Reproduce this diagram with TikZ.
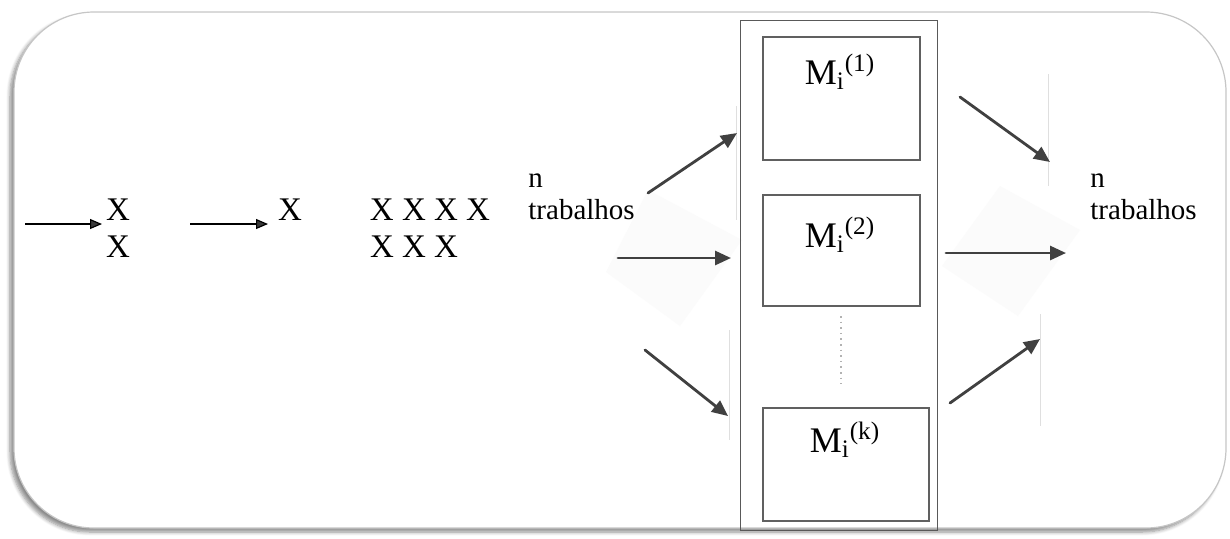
\documentclass[tikz,border=0pt]{standalone}
\usepackage{fontspec}
\setmainfont{Liberation Serif}
\usetikzlibrary{arrows.meta,shadows.blur}

\tikzset{
  frame/.style={draw=gray!45, line width=0.6pt, fill=white, rounded corners=40pt,
    blur shadow={shadow xshift=-2pt, shadow yshift=-2pt, shadow blur steps=6, shadow opacity=45}},
  machine/.style={draw=gray!75!black, line width=1.1pt},
  outerbox/.style={draw=gray!70!black, line width=0.5pt},
  thinarrow/.style={line width=0.6pt, -{Triangle[length=6pt, width=5pt]}},
  fatarrow/.style={draw=gray!50!black, line width=1.4pt, line cap=round,
    -{Triangle[length=8pt, width=7pt]}},
  edge/.style={draw=gray!25, line width=0.4pt},
  ghost/.style={fill=gray!3},
  xlab/.style={font=\fontsize{16.5}{18}\selectfont, inner sep=0pt},
  mlab/.style={font=\fontsize{18}{20}\selectfont, inner sep=0pt},
  jobs/.style={font=\fontsize{14.5}{16}\selectfont, align=left, anchor=west, inner sep=0pt}
}

\begin{document}
\begin{tikzpicture}[x=0.5pt, y=-0.5pt]
\useasboundingbox (0,0) rectangle (1230,538);

% rounded frame with soft shadow
\path[frame] (14,12) rectangle (1226,528);

% faint rotated panels behind the middle arrows
\fill[ghost] (648,190) -- (742,240) -- (680,326) -- (606,272) -- cycle;
\fill[ghost] (1000,186) -- (1080,230) -- (1018,316) -- (942,266) -- cycle;

% faint edges of the arrow panels
\draw[edge] (736,106) -- (736,220);
\draw[edge] (729,330) -- (729,440);
\draw[edge] (1048,74) -- (1048,186);
\draw[edge] (1040,314) -- (1040,426);

% machine column
\draw[outerbox] (740,20) rectangle (937,530);
\draw[machine] (763,37) rectangle (920,160);
\draw[machine] (763,195) rectangle (920,306);
\draw[machine] (763,408) rectangle (929,521);
\draw[gray!60, line width=0.8pt, dotted] (841,316) -- (841,384);

\node[mlab] (m1) at (840,72) {M\textsubscript{i}\textsuperscript{(1)}};
\node[mlab] (m2) at (840,235) {M\textsubscript{i}\textsuperscript{(2)}};
\node[mlab] (mk) at (845,440) {M\textsubscript{i}\textsuperscript{(k)}};

% queue of jobs
\node[xlab] (xa) at (118,210) {X};
\node[xlab] (xb) at (118,247) {X};
\node[xlab] (xc) at (290,210) {X};
\node[xlab] (xd) at (430,210) {X X X X};
\node[xlab] (xe) at (414,247) {X X X};

\coordinate (s1) at (25,224);
\coordinate (e1) at (102,224);
\coordinate (s2) at (190,224);
\coordinate (e2) at (268,224);
\draw[thinarrow] (s1) -- (e1);
\draw[thinarrow] (s2) -- (e2);

\node[jobs] (nin) at (528,197) {n\\trabalhos};
\node[jobs] (nout) at (1090,197) {n\\trabalhos};

% jobs dispatched to the machines
\coordinate (a1) at (648,193); \coordinate (b1) at (737,133);
\coordinate (a2) at (618,258); \coordinate (b2) at (731,258);
\coordinate (a3) at (645,350); \coordinate (b3) at (728,416);
\draw[fatarrow] (a1) -- (b1);
\draw[fatarrow] (a2) -- (b2);
\draw[fatarrow] (a3) -- (b3);

% jobs leaving the machines
\coordinate (c1) at (960,97);  \coordinate (d1) at (1050,162);
\coordinate (c2) at (946,253); \coordinate (d2) at (1066,253);
\coordinate (c3) at (950,403); \coordinate (d3) at (1040,339);
\draw[fatarrow] (c1) -- (d1);
\draw[fatarrow] (c2) -- (d2);
\draw[fatarrow] (c3) -- (d3);
\end{tikzpicture}
\end{document}
